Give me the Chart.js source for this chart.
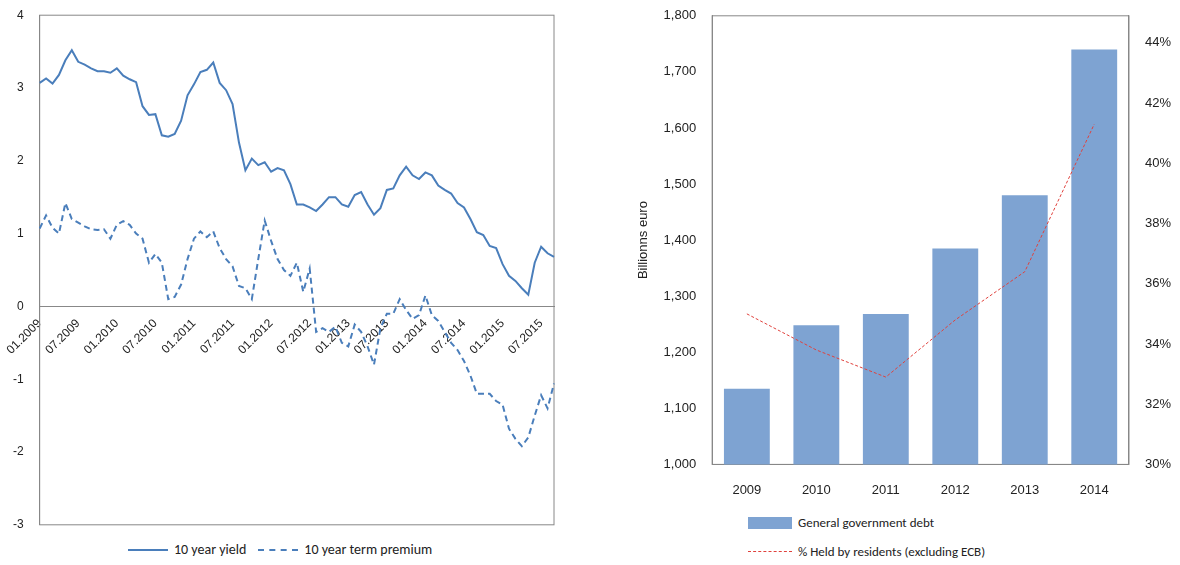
<!DOCTYPE html>
<html>
<head>
<meta charset="utf-8">
<script src="https://cdn.jsdelivr.net/npm/chart.js@4"></script>
<style>
body { margin: 0; background: #fff; font-family: Calibri, "Liberation Sans", Arial, sans-serif; }
#left { position: absolute; left: 0; top: 0; width: 570px; height: 540px; }
#llegend { position: absolute; left: 128px; top: 541px; font-size: 14px; color: #222; display: flex; }
#llegend div { display: flex; align-items: center; margin-right: 12px; }
#right { position: absolute; left: 600px; top: 0; width: 580px; height: 508px; }
#rlegend { position: absolute; left: 748px; top: 508px; font-size: 13px; color: #222; }
#rlegend div { height: 29px; display: flex; align-items: center; }
.sw { display: inline-block; width: 44px; margin-right: 6px; }
</style>
</head>
<body>
<div id="left"><canvas id="yieldChart"></canvas></div>
<div id="llegend">
  <div><span class="sw" style="width:40px;height:0;border-top:2px solid #4A7EBB"></span>10 year yield</div>
  <div><span class="sw" style="width:40px;height:0;border-top:2px dashed #4A7EBB"></span>10 year term premium</div>
</div>
<div id="right"><canvas id="debtChart"></canvas></div>
<div id="rlegend">
  <div><span class="sw" style="height:12px;background:#7EA3D2"></span>General government debt</div>
  <div><span class="sw" style="height:0;border-top:1px dashed #E0413C"></span>% Held by residents (excluding ECB)</div>
</div>
<script>
// LEFT: monthly yields 01.2009 - 09.2015
const months = [];
for (let y = 2009; y <= 2015; y++) {
	for (let m = 1; m <= 12; m++) {
		if (y === 2015 && m > 9) break;
		months.push((m < 10 ? "0" + m : "" + m) + "." + y);
	}
}
const yield10 = [3.07,3.13,3.06,3.18,3.38,3.52,3.36,3.32,3.27,3.23,3.23,3.21,3.27,3.17,3.12,3.08,2.75,2.63,2.64,2.35,
	2.33,2.37,2.55,2.9,3.05,3.22,3.25,3.35,3.07,2.97,2.78,2.25,1.87,2.03,1.94,1.98,1.85,1.9,1.87,1.68,
	1.4,1.4,1.36,1.31,1.4,1.5,1.5,1.4,1.37,1.53,1.57,1.4,1.26,1.35,1.6,1.62,1.8,1.92,1.8,1.75,
	1.84,1.8,1.66,1.6,1.55,1.42,1.36,1.2,1.02,0.98,0.83,0.8,0.58,0.42,0.35,0.25,0.16,0.6,0.82,0.73,0.68];
const termPremium = [1.07,1.25,1.08,1.0,1.42,1.2,1.15,1.1,1.06,1.05,1.06,0.93,1.12,1.17,1.12,1.0,0.93,0.6,0.72,0.6,
	0.1,0.13,0.3,0.65,0.93,1.03,0.95,1.03,0.8,0.65,0.55,0.28,0.25,0.1,0.65,1.18,0.9,0.65,0.5,0.42,
	0.6,0.2,0.52,-0.35,-0.3,-0.35,-0.28,-0.5,-0.55,-0.25,-0.35,-0.55,-0.8,-0.3,-0.1,-0.1,0.1,-0.05,-0.17,-0.12,
	0.15,-0.12,-0.2,-0.35,-0.5,-0.6,-0.75,-0.95,-1.2,-1.2,-1.2,-1.3,-1.35,-1.68,-1.82,-1.92,-1.8,-1.5,-1.22,-1.4,-1.06];

// RIGHT: annual debt
const years = ["2009", "2010", "2011", "2012", "2013", "2014"];
const govDebt = [1135, 1248, 1268, 1385, 1480, 1740];
const heldResidents = [35.0, 33.8, 32.9, 34.8, 36.4, 41.3];

const lineBlue = "#4A7EBB";

const frame = {
	id: "frame",
	beforeDatasetsDraw(chart) {
		const a = chart.chartArea, ctx = chart.ctx;
		ctx.save();
		ctx.strokeStyle = "#888";
		ctx.lineWidth = 1;
		ctx.strokeRect(a.left, a.top, a.right - a.left, a.bottom - a.top);
		ctx.restore();
	}
};

new Chart(document.getElementById("yieldChart"), {
	type: "line",
	data: {
		labels: months,
		datasets: [
			{ label: "10 year yield", data: yield10, borderColor: lineBlue, borderWidth: 2, pointRadius: 0, tension: 0 },
			{ label: "10 year term premium", data: termPremium, borderColor: lineBlue, borderWidth: 2, borderDash: [6, 4], pointRadius: 0, tension: 0 },
		],
	},
	options: {
		responsive: true, maintainAspectRatio: false, animation: false,
		layout: { padding: { left: 5, right: 16, top: 8, bottom: 14 } },
		plugins: { legend: { display: false }, tooltip: { enabled: false } },
		scales: {
			x: {
				position: { y: 0 },
				grid: { display: false },
				border: { color: "#888" },
				ticks: {
					autoSkip: false, maxRotation: 45, minRotation: 45, color: "#222", font: { size: 12 }, padding: 2,
					callback: (v, i) => (i % 6 === 0 ? months[i] : ""),
				},
			},
			y: {
				min: -3, max: 4,
				grid: { display: false },
				border: { color: "#888" },
				ticks: { stepSize: 1, color: "#222", font: { size: 12 }, padding: 8 },
			},
		},
	},
	plugins: [frame],
});

new Chart(document.getElementById("debtChart"), {
	data: {
		labels: years,
		datasets: [
			{ type: "line", label: "% Held by residents (excluding ECB)", data: heldResidents, yAxisID: "y2",
				borderColor: "#E0413C", borderWidth: 1, borderDash: [3, 2], pointRadius: 0, tension: 0 },
			{ type: "bar", label: "General government debt", data: govDebt, yAxisID: "y",
				backgroundColor: "#7EA3D2", barPercentage: 0.66, categoryPercentage: 1 },
		],
	},
	options: {
		responsive: true, maintainAspectRatio: false, animation: false,
		layout: { padding: { left: 32, right: 1, top: 13, bottom: 0 } },
		plugins: { legend: { display: false }, tooltip: { enabled: false } },
		scales: {
			x: {
				grid: { display: false },
				border: { color: "#888" },
				ticks: { color: "#222", font: { size: 13 }, padding: 10 },
			},
			y: {
				min: 1000, max: 1800,
				grid: { display: false },
				border: { color: "#888" },
				title: { display: true, text: "Billionns euro", color: "#222", font: { size: 13 } },
				ticks: { stepSize: 100, color: "#222", font: { size: 13 }, padding: 8,
					callback: v => v.toLocaleString("en-US") },
			},
			y2: {
				position: "right", min: 30, max: 44.9,
				grid: { display: false },
				border: { color: "#888" },
				afterBuildTicks: s => { s.ticks = [30,32,34,36,38,40,42,44].map(v => ({ value: v })); },
				ticks: { color: "#222", font: { size: 13 }, padding: 8, callback: v => v + "%" },
			},
		},
	},
	plugins: [frame],
});
</script>
</body>
</html>
